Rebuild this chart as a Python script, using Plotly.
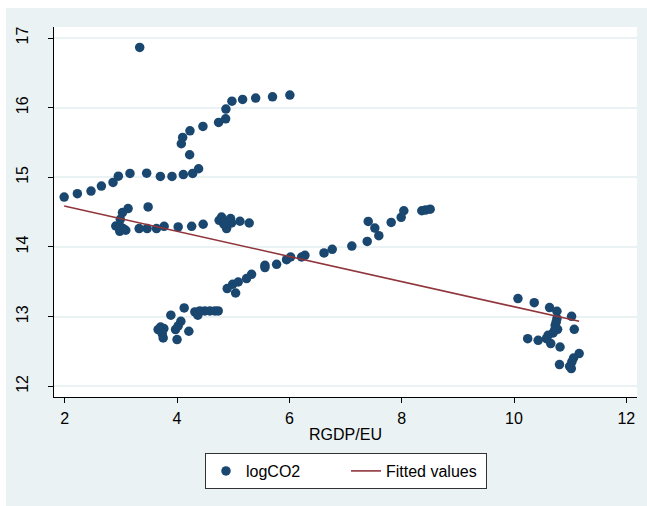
import plotly.graph_objects as go

# GDP per unit of energy use vs. log CO2 emissions
rgdp_eu = [
    # upper arm
    1.99, 2.225, 2.468, 2.653, 2.86, 2.955, 3.162, 3.459, 3.703, 3.91, 4.112, 4.278, 4.384,
    4.224, 4.076, 4.10, 4.23, 4.461, 4.74, 4.865, 4.87, 4.977, 5.167, 5.40, 5.70, 6.009,
    3.335,
    # middle band
    3.128, 3.028, 3.485, 2.99, 2.909, 2.99, 3.04, 2.98, 3.087, 3.325, 3.467, 3.634, 3.77,
    4.02, 4.26, 4.465, 4.793, 4.75, 4.852, 4.953, 4.97, 4.882, 4.834, 5.12, 5.285,
    # lower arm
    4.127, 3.89, 4.068, 4.02, 3.973, 3.706, 3.765, 3.663, 3.735, 3.753, 4.0, 4.21,
    4.317, 4.406, 4.495, 4.585, 4.674, 4.733, 4.37,
    4.893, 4.99, 5.043, 5.089, 5.238, 5.327, 5.565, 5.565, 5.773, 5.95, 6.022, 6.218,
    6.277, 6.617, 6.763, 7.112, 7.386, 7.404, 7.522, 7.593, 7.813, 7.991, 8.038, 8.358,
    8.424, 8.507,
    # right cluster
    10.07, 10.36, 10.633, 10.764, 11.025, 10.764, 10.734, 10.776, 11.073, 10.695, 10.606,
    10.577, 10.654, 10.244, 10.43, 10.82, 11.16, 11.06, 11.03, 10.81, 10.99, 11.02,
    10.75, 10.72,
]
log_co2 = [
    14.716, 14.765, 14.802, 14.874, 14.927, 15.017, 15.056, 15.06, 15.013, 15.013, 15.04,
    15.056, 15.123, 15.324, 15.482, 15.572, 15.668, 15.73, 15.788, 15.84, 15.979, 16.093,
    16.118, 16.137, 16.156, 16.18,
    16.864,
    14.551, 14.494, 14.574, 14.397, 14.301, 14.287, 14.264, 14.225, 14.24, 14.264, 14.264,
    14.264, 14.297, 14.287, 14.296, 14.326, 14.43, 14.383, 14.373, 14.407, 14.344, 14.264,
    14.326, 14.369, 14.344,
    13.124, 13.02, 12.933, 12.866, 12.814, 12.851, 12.828, 12.814, 12.757, 12.694, 12.67,
    12.79, 13.067, 13.081, 13.081, 13.081, 13.081, 13.081, 13.02,
    13.402, 13.464, 13.339, 13.497, 13.546, 13.608, 13.737, 13.704, 13.751, 13.818, 13.856,
    13.856, 13.88, 13.914, 13.966, 14.013, 14.08, 14.367, 14.271, 14.162, 14.353, 14.425,
    14.52, 14.52, 14.53, 14.543,
    13.259, 13.20, 13.13, 13.077, 13.005, 12.971, 12.876, 12.818, 12.818, 12.765, 12.732,
    12.684, 12.613, 12.684, 12.66, 12.564, 12.469, 12.406, 12.349, 12.311, 12.287, 12.254,
    12.92, 12.80,
]

# linear fit, evaluated at the ends of the data range
fit_x = [1.99, 11.16]
fit_y = [14.587, 12.933]

x_ticks = [2, 4, 6, 8, 10, 12]
y_ticks = [12, 13, 14, 15, 16, 17]

NAVY = "#1A476F"
MAROON = "#90353B"
REGION = "#EAF2F3"
FONT = "Liberation Sans, Arial, sans-serif"

W, H = 647, 506
ML, MR, MT, MB = 54, 10, 27, 109

fig = go.Figure()
fig.add_trace(go.Scatter(
    x=rgdp_eu, y=log_co2, mode="markers", name="logCO2",
    marker=dict(color=NAVY, size=9.5, line=dict(width=0)),
))
fig.add_trace(go.Scatter(
    x=fit_x, y=fit_y, mode="lines", name="Fitted values",
    line=dict(color=MAROON, width=1.6),
))

axis_common = dict(
    showline=True, linecolor="#000000", linewidth=1,
    ticks="outside", ticklen=5, tickcolor="#000000", tickwidth=1,
    zeroline=False, tickfont=dict(family=FONT, size=16, color="#000000"),
)
fig.update_xaxes(
    range=[1.809, 12.19], tickvals=x_ticks, showgrid=False,
    title=dict(text="RGDP/EU", font=dict(family=FONT, size=16, color="#000000"), standoff=2),
    ticklabelstandoff=2, **axis_common,
)
fig.update_yaxes(
    range=[11.846, 17.158], tickvals=y_ticks, showgrid=True,
    gridcolor=REGION, gridwidth=1.5, tickangle=-90, ticklabelstandoff=14,
    **axis_common,
)

# white margin strips on the top and left edges of the page
px_x = lambda p: (p - ML) / (W - ML - MR)
px_y = lambda p: 1 - (p - MT) / (H - MT - MB)
fig.add_shape(type="rect", xref="paper", yref="paper", x0=px_x(0), x1=px_x(W + 5),
              y0=px_y(0), y1=px_y(8), fillcolor="white", line_width=0, layer="below")
fig.add_shape(type="rect", xref="paper", yref="paper", x0=px_x(0), x1=px_x(6),
              y0=px_y(0), y1=px_y(H + 5), fillcolor="white", line_width=0, layer="below")

fig.update_layout(
    width=W, height=H,
    margin=dict(l=ML, r=MR, t=MT, b=MB),
    paper_bgcolor=REGION, plot_bgcolor="white",
    font=dict(family=FONT, size=16, color="#000000"),
    showlegend=True,
    legend=dict(
        orientation="h", x=px_x(346), xanchor="center", y=px_y(453), yanchor="top",
        bgcolor="white", bordercolor="#333333", borderwidth=1,
        font=dict(family=FONT, size=16, color="#000000"),
        itemwidth=30, tracegroupgap=0, entrywidth=95, entrywidthmode="pixels",
    ),
)

fig.write_html("out.html")
